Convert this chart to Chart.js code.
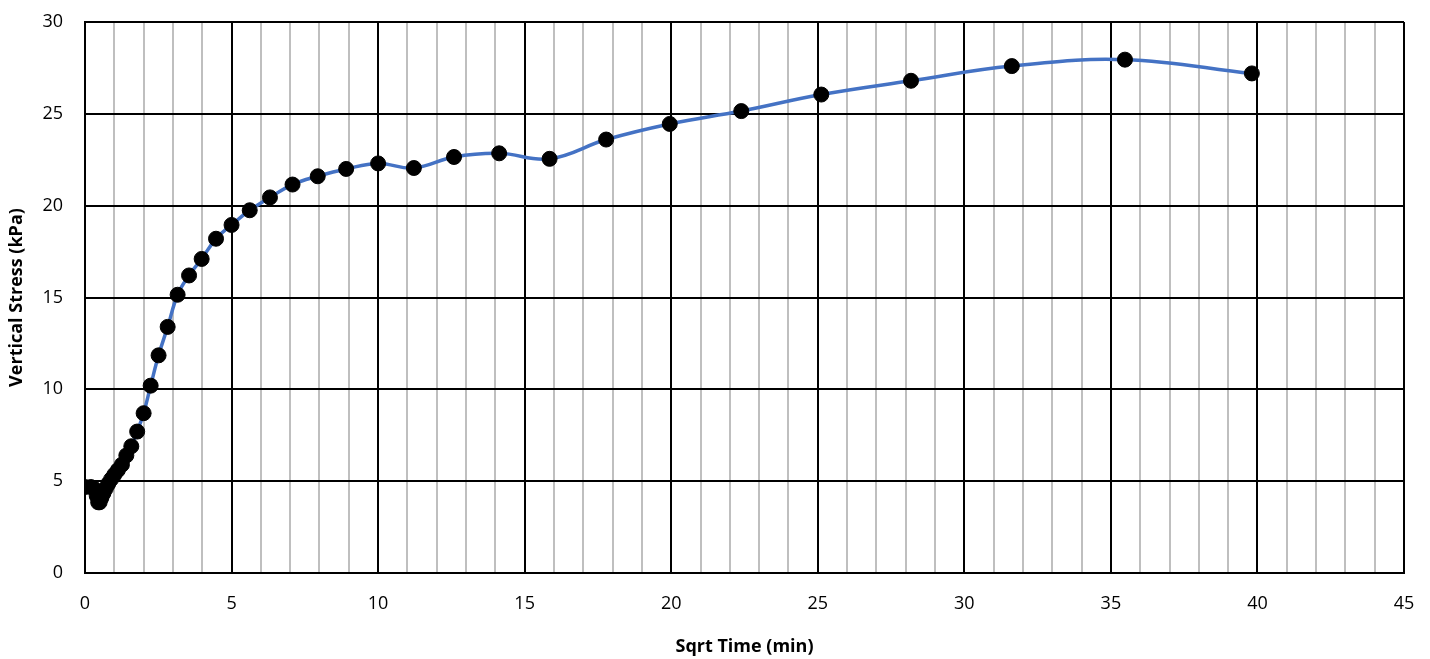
<!DOCTYPE html>
<html>
<head>
<meta charset="utf-8">
<script src="https://cdn.jsdelivr.net/npm/chart.js@4"></script>
<style>
  html, body { margin: 0; padding: 0; background: #fff; }
  #wrap { width: 1430px; height: 659px; }
</style>
</head>
<body>
<div id="wrap"><canvas id="myChart" width="1430" height="659"></canvas></div>
<script>
// Dataset
const sqrtTime = [0, 0.2, 0.3, 0.4, 0.45, 0.5, 0.56, 0.63, 0.71, 0.79, 0.89, 1.0, 1.12, 1.26, 1.41, 1.58,
  1.78, 2.0, 2.24, 2.51, 2.82, 3.16, 3.55, 3.98, 4.47, 5.0, 5.62, 6.31, 7.08, 7.94, 8.91, 10.0,
  11.22, 12.59, 14.13, 15.85, 17.78, 19.95, 22.39, 25.12, 28.18, 31.62, 35.48, 39.81];
const stress = [4.68, 4.68, 4.6, 4.2, 3.85, 3.85, 4.1, 4.35, 4.6, 4.85, 5.1, 5.35, 5.6, 5.9, 6.4, 6.9,
  7.7, 8.7, 10.2, 11.85, 13.4, 15.15, 16.2, 17.1, 18.2, 18.95, 19.75, 20.45, 21.15, 21.6, 22.0, 22.3,
  22.05, 22.65, 22.85, 22.55, 23.6, 24.45, 25.15, 26.05, 26.8, 27.6, 27.95, 27.2];

const points = sqrtTime.map((x, i) => ({ x: x, y: stress[i] }));

const FONT = "'Open Sans', sans-serif";

// Style Configurations
const config = {
  type: "scatter",
  data: {
    datasets: [
      {
        data: points,
        showLine: true,
        borderColor: "#4472C4",
        borderWidth: 3.5,
        tension: 0.4,
        pointRadius: 7.5,
        pointHoverRadius: 7.5,
        pointBackgroundColor: "#000",
        pointBorderColor: "#000",
        pointBorderWidth: 1,
      },
    ],
  },
  options: {
    responsive: false,
    animation: false,
    layout: { padding: { top: 22, right: 26, left: 0, bottom: 0 } },
    plugins: {
      legend: { display: false },
      tooltip: { enabled: false },
    },
    scales: {
      x: {
        type: "linear",
        min: 0,
        max: 45,
        border: { color: "#000", width: 2 },
        grid: {
          drawTicks: false,
          lineWidth: 2,
          color: (c) => (c.tick && c.tick.value % 5 === 0 ? "#000" : "#BFBFBF"),
        },
        ticks: {
          stepSize: 1,
          autoSkip: false,
          maxRotation: 0,
          padding: 20,
          color: "#000",
          font: { family: FONT, size: 18 },
          callback: (v) => (v % 5 === 0 ? v : ""),
        },
        title: {
          display: true,
          text: "Sqrt Time (min)",
          color: "#000",
          font: { family: FONT, size: 18, weight: "bold" },
          padding: { top: 0, bottom: 1 },
        },
        afterFit: (s) => {
          s.height = 86;
          s.paddingLeft = 0;
          s.paddingRight = 0;
        },
      },
      y: {
        min: 0,
        max: 30,
        border: { color: "#000", width: 2 },
        grid: { drawTicks: false, lineWidth: 2, color: "#000" },
        ticks: {
          stepSize: 5,
          padding: 22,
          color: "#000",
          font: { family: FONT, size: 18 },
        },
        title: {
          display: true,
          text: "Vertical Stress (kPa)",
          color: "#000",
          font: { family: FONT, size: 18, weight: "bold" },
          padding: { top: 6, bottom: 0 },
        },
        afterFit: (s) => {
          s.width = 85;
          s.paddingTop = 0;
          s.paddingBottom = 0;
        },
      },
    },
  },
};

// Plotting
let ctx = document.getElementById("myChart").getContext("2d");
let stressChart = new Chart(ctx, config);
</script>
</body>
</html>
